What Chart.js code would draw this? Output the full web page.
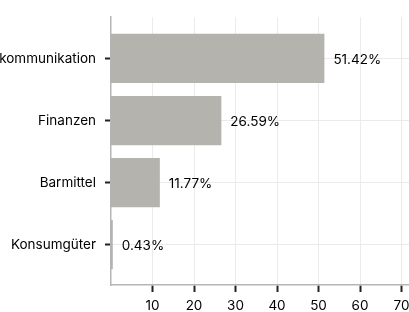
<!DOCTYPE html>
<html>
<head>
<meta charset="utf-8">
<script src="https://cdn.jsdelivr.net/npm/chart.js@4/dist/chart.umd.min.js"></script>
<style>
  html, body { margin: 0; padding: 0; background: #fff; overflow: hidden; width: 409px; height: 312px; }
  #wrap { position: absolute; left: -50px; top: 0; width: 510px; height: 330px; }
</style>
</head>
<body>
<div id="wrap"><canvas id="sektorChart"></canvas></div>
<script>
// Daten
const kategorien = ['Telekommunikation', 'Finanzen', 'Barmittel', 'Konsumgüter'];
const anteile = [51.42, 26.59, 11.77, 0.43];
const xTicks = [10, 20, 30, 40, 50, 60, 70, 80];

Chart.defaults.font.family = 'Inter, "Noto Sans", sans-serif';
Chart.defaults.font.size = 13.5;
Chart.defaults.color = '#000';

// Prozentwerte rechts neben die Balken schreiben
const wertLabels = {
    id: 'wertLabels',
    afterDatasetsDraw(chart) {
        const ctx = chart.ctx;
        const meta = chart.getDatasetMeta(0);
        ctx.save();
        ctx.font = '13.5px Inter, "Noto Sans", sans-serif';
        ctx.fillStyle = '#000';
        ctx.textAlign = 'left';
        ctx.textBaseline = 'middle';
        meta.data.forEach(function(bar, i) {
            ctx.fillText(anteile[i].toFixed(2) + '%', bar.x + 9, bar.y + 1);
        });
        ctx.restore();
    }
};

new Chart(document.getElementById('sektorChart').getContext('2d'), {
    type: 'bar',
    data: {
        datasets: [{
            data: anteile.map(function(v, i) { return { x: v, y: i }; }),
            backgroundColor: '#b4b3ae',
            borderWidth: 0,
            categoryPercentage: 1,
            barPercentage: 0.794
        }]
    },
    options: {
        indexAxis: 'y',
        responsive: true,
        maintainAspectRatio: false,
        animation: false,
        layout: { padding: { top: 13, right: 17, left: 0, bottom: 0 } },
        plugins: {
            legend: { display: false },
            tooltip: { enabled: false }
        },
        scales: {
            x: {
                type: 'linear',
                min: 0,
                max: 80,
                afterBuildTicks: function(scale) {
                    scale.ticks = xTicks.map(function(v) { return { value: v }; });
                },
                afterFit: function(scale) { scale.height = 45; },
                grid: { color: '#ebebeb', lineWidth: 1, tickColor: '#222', tickLength: 7, tickWidth: 2 },
                border: { color: '#b5b5b5', width: 1.5 },
                ticks: { padding: 6, color: '#000', maxRotation: 0 }
            },
            y: {
                type: 'linear',
                reverse: true,
                offset: false,
                min: -0.667,
                max: 3.651,
                afterBuildTicks: function(scale) {
                    scale.ticks = kategorien.map(function(k, i) { return { value: i }; });
                },
                afterFit: function(scale) { scale.width = 161; },
                grid: { offset: false, color: '#ebebeb', lineWidth: 1, tickColor: '#222', tickLength: 6, tickWidth: 2 },
                border: { color: '#b5b5b5', width: 1.5 },
                ticks: {
                    padding: 9,
                    color: '#000',
                    callback: function(value) { return kategorien[value]; }
                }
            }
        }
    },
    plugins: [wertLabels]
});
</script>
</body>
</html>
